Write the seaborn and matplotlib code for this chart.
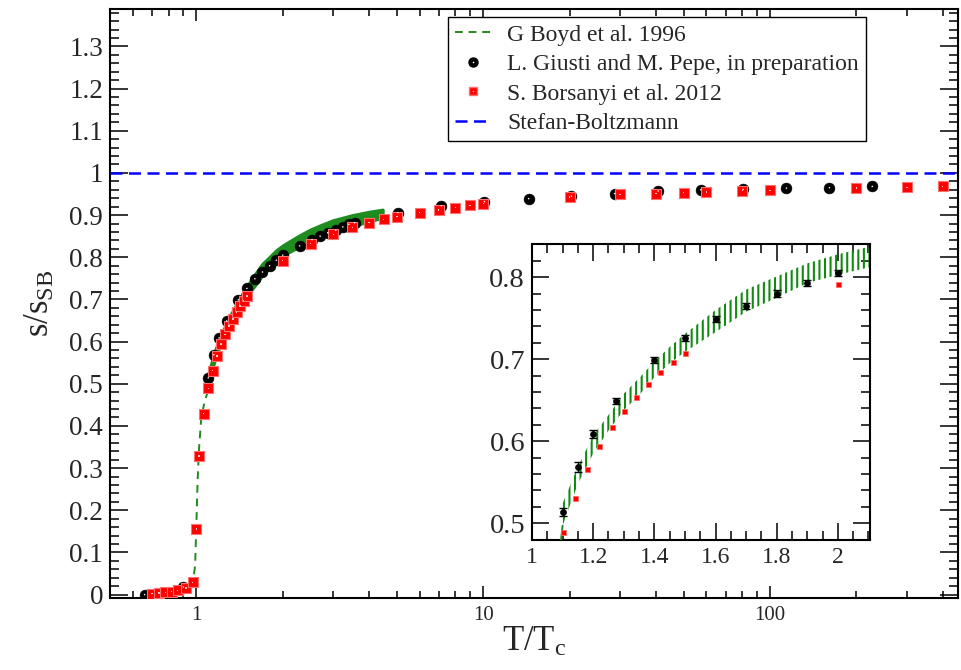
import numpy as np
import pandas as pd
import matplotlib
matplotlib.use("Agg")
import matplotlib.pyplot as plt
import seaborn as sns
from matplotlib.ticker import MultipleLocator, LogLocator, FuncFormatter, NullFormatter
from matplotlib.lines import Line2D

# ---------------- data ----------------
boyd_line_T = [0.88, 0.93, 0.97, 0.99, 1.00, 1.01, 1.02, 1.04, 1.07, 1.095, 1.10]
boyd_line_s = [0.000, 0.006, 0.020, 0.070, 0.170, 0.270, 0.340, 0.420, 0.460, 0.480, 0.497]

boyd_T  = [1.10, 1.15, 1.20, 1.25, 1.30, 1.35, 1.40, 1.45, 1.50, 1.60, 1.70, 1.80,
           1.90, 2.00, 2.10, 2.30, 2.50, 2.75, 3.00, 3.50, 4.00, 4.46]
boyd_lo = [0.497, 0.548, 0.585, 0.613, 0.638, 0.656, 0.678, 0.695, 0.709, 0.733, 0.758, 0.775,
           0.793, 0.803, 0.812, 0.826, 0.838, 0.850, 0.860, 0.874, 0.885, 0.894]
boyd_hi = [0.524, 0.569, 0.607, 0.632, 0.658, 0.677, 0.697, 0.715, 0.731, 0.760, 0.785, 0.801,
           0.817, 0.828, 0.837, 0.853, 0.866, 0.878, 0.888, 0.900, 0.908, 0.913]

giusti_T = [0.66, 0.90, 1.10, 1.15, 1.20, 1.275, 1.40, 1.50, 1.60, 1.70, 1.80, 1.90, 2.00,
            2.29, 2.53, 2.70, 2.87, 3.06, 3.24, 3.40, 3.56, 5.04, 7.14,
            10.1, 14.4, 20.3, 28.7, 40.7, 57.3, 80.6, 114, 161, 227]
giusti_s = [0.000, 0.018, 0.514, 0.569, 0.609, 0.649, 0.699, 0.726, 0.749, 0.765, 0.780, 0.793, 0.805,
            0.827, 0.842, 0.850, 0.858, 0.864, 0.872, 0.878, 0.882, 0.906, 0.922,
            0.932, 0.939, 0.945, 0.951, 0.957, 0.960, 0.961, 0.964, 0.965, 0.968]
giusti_err = [0.002, 0.003, 0.005, 0.006, 0.005, 0.004, 0.004, 0.004, 0.004, 0.004, 0.004, 0.004, 0.004,
              0.004, 0.004, 0.004, 0.004, 0.004, 0.004, 0.004, 0.004, 0.004, 0.004,
              0.004, 0.004, 0.004, 0.004, 0.004, 0.004, 0.004, 0.004, 0.004, 0.004]

borsanyi_T = [0.70, 0.74, 0.78, 0.82, 0.86, 0.92, 0.97, 1.00, 1.02, 1.06,
              1.10, 1.14, 1.18, 1.22, 1.26, 1.30, 1.34, 1.38, 1.42, 1.46, 1.50,
              2.0, 2.5, 3.0, 3.5, 4.0, 4.5, 5.0, 6.0, 7.0, 8.0, 9.0, 10.0,
              20, 30, 40, 50, 60, 80, 100, 200, 300, 400]
borsanyi_s = [0.002, 0.004, 0.005, 0.007, 0.010, 0.016, 0.029, 0.156, 0.329, 0.429,
              0.489, 0.531, 0.566, 0.594, 0.617, 0.637, 0.654, 0.670, 0.684, 0.697, 0.708,
              0.792, 0.832, 0.854, 0.871, 0.882, 0.890, 0.896, 0.906, 0.912, 0.918, 0.923, 0.927,
              0.943, 0.949, 0.951, 0.953, 0.955, 0.958, 0.959, 0.964, 0.966, 0.968]

sb_level = 1.0

main_yticks = [0, 0.1, 0.2, 0.3, 0.4, 0.5, 0.6, 0.7, 0.8, 0.9, 1.0, 1.1, 1.2, 1.3]
inset_xticks = [1.0, 1.2, 1.4, 1.6, 1.8, 2.0]
inset_yticks = [0.5, 0.6, 0.7, 0.8]

labels = ["G Boyd et al. 1996", "L. Giusti and M. Pepe, in preparation",
          "S. Borsanyi et al. 2012", "Stefan-Boltzmann"]

# ---------------- style ----------------
GREEN = "#1e8c1e"
HATCH_GREEN = "#128a12"
sns.set_style("ticks")
plt.rcParams["font.family"] = ["Liberation Serif", "DejaVu Serif"]
plt.rcParams["mathtext.fontset"] = "custom"
plt.rcParams["mathtext.rm"] = "Liberation Serif"
plt.rcParams["mathtext.it"] = "Liberation Serif:italic"
plt.rcParams["mathtext.bf"] = "Liberation Serif:bold"
plt.rcParams["hatch.linewidth"] = 1.5
plt.rcParams["hatch.color"] = HATCH_GREEN

df_g = pd.DataFrame({"T": giusti_T, "s": giusti_s, "err": giusti_err})
df_b = pd.DataFrame({"T": borsanyi_T, "s": borsanyi_s})
df_line = pd.DataFrame({"T": boyd_line_T, "s": boyd_line_s})

fig = plt.figure(figsize=(9.61, 6.70), dpi=100)
ax = fig.add_axes([0.1145, 0.1075, 0.8824, 0.8786])
ax.set_xscale("log")

fmt = FuncFormatter(lambda v, p: "%g" % v)

# main panel
ax.fill_between(boyd_T, boyd_lo, boyd_hi, facecolor=GREEN, edgecolor=GREEN,
                linewidth=2.2, zorder=2)
sns.lineplot(data=df_line, x="T", y="s", sort=False, estimator=None, ax=ax,
             color=GREEN, linewidth=1.4, zorder=3)
ax.lines[-1].set_dashes((4, 3))
sns.scatterplot(data=df_g, x="T", y="s", marker="o", s=7.8 ** 2, color="black",
                edgecolor="black", linewidth=0.4, ax=ax, zorder=5)
sns.scatterplot(data=df_g, x="T", y="s", marker="o", s=1.1 ** 2, color="white",
                edgecolor="none", linewidth=0, ax=ax, zorder=6)
sns.scatterplot(data=df_b, x="T", y="s", marker="s", s=6.8 ** 2, color="#ff0000",
                edgecolor="#ff7070", linewidth=0.8, ax=ax, zorder=5)
sns.scatterplot(data=df_b, x="T", y="s", marker="s", s=1.0 ** 2, color="#ffc8c8",
                edgecolor="none", linewidth=0, ax=ax, zorder=6)
ax.axhline(sb_level, color="#0000ff", linewidth=1.8, dashes=(4.8, 2.6), zorder=3)

ax.set_xlim(0.5, 452)
ax.set_ylim(-0.008, 1.388)
ax.xaxis.set_major_locator(LogLocator(base=10, numticks=10))
ax.xaxis.set_minor_locator(LogLocator(base=10, subs=np.arange(2, 10), numticks=20))
ax.xaxis.set_major_formatter(fmt)
ax.xaxis.set_minor_formatter(NullFormatter())
ax.set_yticks(main_yticks)
ax.yaxis.set_minor_locator(MultipleLocator(0.02))
ax.yaxis.set_major_formatter(fmt)
ax.tick_params(which="both", direction="in", top=True, right=True, width=1.1, color="black")
ax.tick_params(axis="y", which="major", length=13, labelsize=19.5, pad=5)
ax.tick_params(axis="y", which="minor", length=6.5)
ax.tick_params(axis="x", which="major", length=8.5, labelsize=15, pad=6)
ax.tick_params(axis="x", which="minor", length=5)
for sp in ax.spines.values():
    sp.set_linewidth(1.5)
    sp.set_color("black")
ax.set_xlabel("T/T$_\\mathrm{c}$", fontsize=25, labelpad=0)
ax.set_ylabel("s/s$_\\mathrm{SB}$", fontsize=25, labelpad=9)

handles = [
    Line2D([], [], color=GREEN, linewidth=1.4, dashes=(4, 3)),
    (Line2D([], [], marker="o", ls="none", color="black", markersize=6.5),
     Line2D([], [], marker="o", ls="none", color="white", markeredgewidth=0, markersize=1.2)),
    (Line2D([], [], marker="s", ls="none", color="#ff0000", markeredgecolor="#ff7070", markersize=6),
     Line2D([], [], marker="s", ls="none", color="#ffc8c8", markeredgewidth=0, markersize=1.0)),
    Line2D([], [], color="#0000ff", linewidth=1.8, dashes=(4.8, 2.6)),
]
leg = ax.legend(handles, labels, loc="upper left", bbox_to_anchor=(448 / 961, 1 - 17 / 670),
                bbox_transform=fig.transFigure, fontsize=17, frameon=True, fancybox=False,
                shadow=False, framealpha=1, edgecolor="black", borderpad=0.3,
                labelspacing=0.34, handlelength=1.5, handletextpad=0.7, borderaxespad=0)
leg.get_frame().set_linewidth(1.0)

# ---------------- inset ----------------
axi = fig.add_axes([532 / 961, 1 - 540 / 670, (870 - 532) / 961, (540 - 244) / 670])
axi.set_facecolor("white")
axi.fill_between(boyd_T, boyd_lo, boyd_hi, facecolor="none", edgecolor=HATCH_GREEN,
                 hatch="|||", linewidth=0, zorder=2)
sns.lineplot(data=df_line, x="T", y="s", sort=False, estimator=None, ax=axi,
             color=GREEN, linewidth=1.4, zorder=3)
axi.errorbar(df_g["T"], df_g["s"], yerr=df_g["err"], fmt="none", ecolor="black",
             elinewidth=1.0, capsize=3, capthick=1.0, zorder=4)
sns.scatterplot(data=df_g, x="T", y="s", marker="o", s=4.4 ** 2, color="black",
                edgecolor="black", linewidth=0.4, ax=axi, zorder=5)
sns.scatterplot(data=df_b, x="T", y="s", marker="s", s=3.6 ** 2, color="#ff0000",
                edgecolor="#ff6a6a", linewidth=0.6, ax=axi, zorder=5)
axi.set_xlim(1.0, 2.105)
axi.set_ylim(0.4796, 0.8406)
axi.set_xticks(inset_xticks)
axi.set_yticks(inset_yticks)
axi.xaxis.set_minor_locator(MultipleLocator(0.05))
axi.yaxis.set_minor_locator(MultipleLocator(0.02))
axi.xaxis.set_major_formatter(fmt)
axi.yaxis.set_major_formatter(fmt)
axi.tick_params(which="both", direction="in", top=True, right=True, width=1.1, color="black")
axi.tick_params(which="major", length=12.5)
axi.tick_params(which="minor", length=6.5)
axi.tick_params(axis="y", labelsize=20.5, pad=5)
axi.tick_params(axis="x", labelsize=17, pad=5)
for sp in axi.spines.values():
    sp.set_linewidth(1.5)
    sp.set_color("black")
axi.set_xlabel("")
axi.set_ylabel("")

fig.savefig("out.png", dpi=100)
